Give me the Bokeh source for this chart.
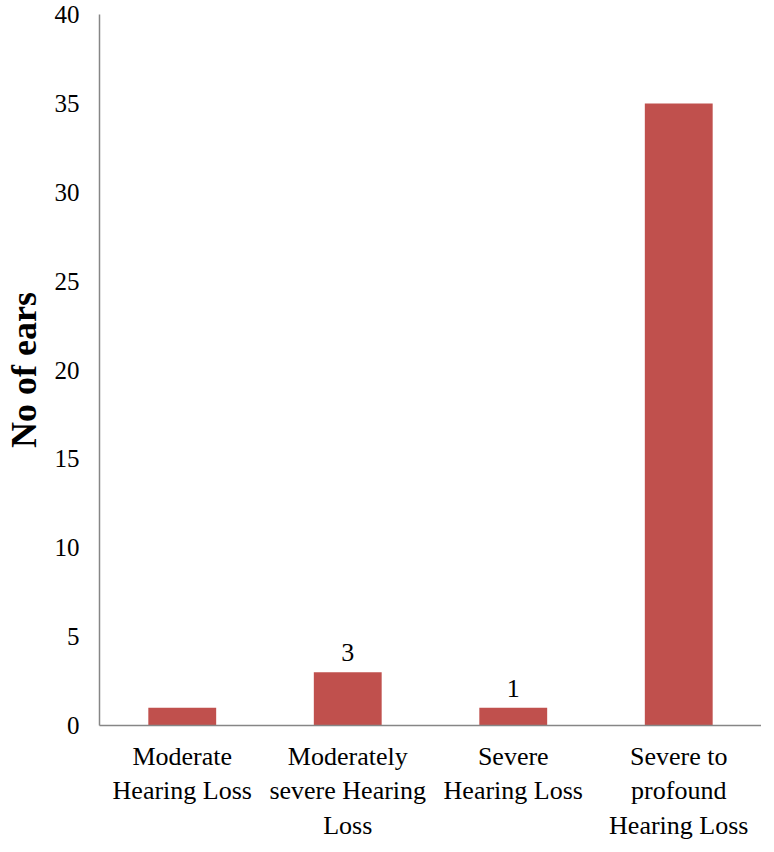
from bokeh.plotting import figure
from bokeh.models import ColumnDataSource, FactorRange, Range1d, LabelSet, FixedTicker
from bokeh.embed import file_html
from bokeh.resources import INLINE

categories = ["Moderate\nHearing Loss", "Moderately\nsevere Hearing\nLoss",
              "Severe\nHearing Loss", "Severe to\nprofound\nHearing Loss"]
ears = [1, 3, 1, 35]
data_labels = ["", "3", "1", ""]
y_ticks = [0, 5, 10, 15, 20, 25, 30, 35, 40]

FONT = "Liberation Serif"
BAR = "#C0504D"
AXIS = "#868686"

src = ColumnDataSource(dict(cat=categories, val=ears, lab=data_labels))

p = figure(x_range=FactorRange(*categories, range_padding=0),
           y_range=Range1d(0, 40),
           frame_width=662, frame_height=711,
           min_border_left=93, min_border_right=0, min_border_top=14, min_border_bottom=108,
           output_backend="svg", toolbar_location=None)

p.vbar(x="cat", top="val", width=0.41, source=src, fill_color=BAR, line_color=None)

p.add_layout(LabelSet(x="cat", y="val", text="lab", source=src, text_align="center",
                      text_baseline="bottom", y_offset=11, text_font=FONT,
                      text_font_size="26px", text_color="#000000"))

p.xgrid.grid_line_color = None
p.ygrid.grid_line_color = None
p.outline_line_color = None
p.background_fill_color = "white"
p.border_fill_color = "white"

p.yaxis.ticker = FixedTicker(ticks=y_ticks)
p.yaxis.axis_label = "No of ears"
p.yaxis.axis_label_text_font = FONT
p.yaxis.axis_label_text_font_style = "bold"
p.yaxis.axis_label_text_font_size = "36px"
p.yaxis.axis_label_text_color = "#000000"
p.yaxis.axis_label_standoff = 8

for ax in (p.xaxis, p.yaxis):
    ax.axis_line_color = AXIS
    ax.axis_line_width = 1.5
    ax.major_tick_line_color = None
    ax.minor_tick_line_color = None
    ax.major_tick_out = 0
    ax.major_tick_in = 0
    ax.major_label_text_font = FONT
    ax.major_label_text_color = "#000000"

p.yaxis.major_label_text_font_size = "25px"
p.yaxis.major_label_standoff = 20
p.xaxis.major_label_text_font_size = "26px"
p.xaxis.major_label_standoff = 16

open("out.html", "w").write(file_html(p, INLINE))
